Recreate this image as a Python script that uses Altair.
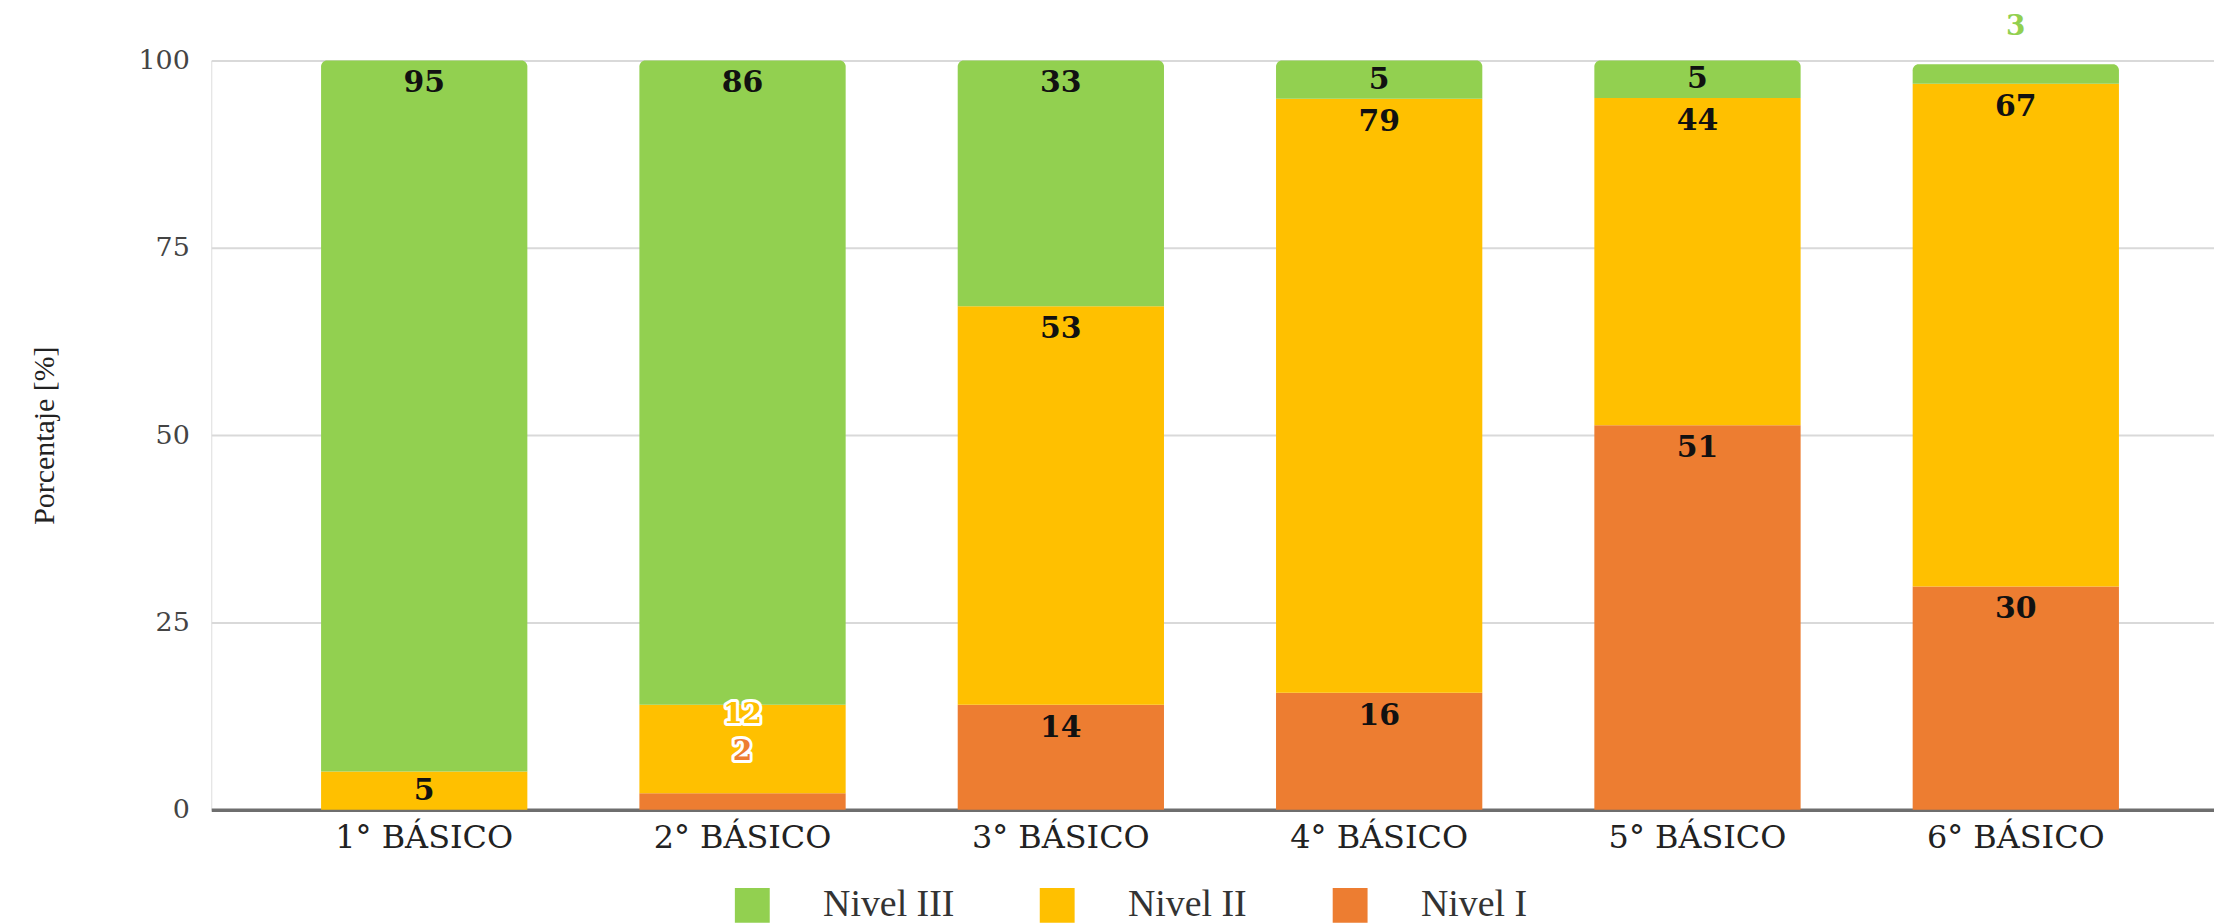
import altair as alt
import pandas as pd

# ---- data ----
grades = ["1° BÁSICO", "2° BÁSICO", "3° BÁSICO", "4° BÁSICO", "5° BÁSICO", "6° BÁSICO"]
levels_legend = ["Nivel III", "Nivel II", "Nivel I"]
level_colors = ["#92D050", "#FFC000", "#ED7D31"]
nivel_I = [0.0, 2.2, 14.0, 15.6, 51.3, 29.8]
nivel_II = [5.1, 11.8, 53.2, 79.3, 43.7, 67.1]
nivel_III = [94.9, 86.0, 32.8, 5.1, 5.0, 2.6]
y_ticks = [0, 25, 50, 75, 100]

stack_order = ["Nivel I", "Nivel II", "Nivel III"]  # bottom -> top
series = {"Nivel I": nivel_I, "Nivel II": nivel_II, "Nivel III": nivel_III}
color_of = dict(zip(levels_legend, level_colors))

PX_PER_UNIT = 752 / 100.0
rows = []
for i, g in enumerate(grades):
    base = 0.0
    vals = [series[l][i] for l in stack_order]
    for k, lvl in enumerate(stack_order):
        v = vals[k]
        start, end = base, base + v
        base = end
        is_top = k == len(stack_order) - 1
        small = 0 < v < 3
        below_small = k > 0 and 0 < vals[k - 1] < 3 and not small
        if small:
            kind = "outside_top" if is_top else "outside"
            label_y = end + (37 if is_top else 41) / PX_PER_UNIT
        elif below_small:
            kind = "halo"
            label_y = end - 10 / PX_PER_UNIT
        else:
            kind = "normal"
            label_y = end - min(23 / PX_PER_UNIT, v / 2)
        rows.append(dict(grade=g, level=lvl, value=v, start=start, end=end,
                         top=is_top, kind=kind, label_y=label_y,
                         label=f"{v:.0f}", label_color=color_of[lvl]))
df = pd.DataFrame(rows)

FONT_SERIF_WIDE = "DejaVu Serif"
FONT_SERIF = "Liberation Serif"

x_enc = alt.X("grade:N", sort=grades,
              scale=alt.Scale(paddingInner=0.352, paddingOuter=0.3218, align=0.536),
              axis=alt.Axis(title=None, labelAngle=0, ticks=False, tickSize=0,
                            labelFont=FONT_SERIF_WIDE, labelFontSize=32,
                            labelColor="#222222", labelBaseline="middle",
                            labelPadding=28, domain=True, domainColor="#6e6e6e",
                            domainWidth=3.5, grid=False))


def y_enc(field):
    return alt.Y(field, type="quantitative",
                 scale=alt.Scale(domain=[0, 100], nice=False, zero=True),
                 axis=alt.Axis(values=y_ticks, title="Porcentaje [%]", domain=False,
                               ticks=False, tickSize=0, grid=True, gridColor="#d9d9d9",
                               gridWidth=2, labelFont=FONT_SERIF_WIDE, labelFontSize=27,
                               labelColor="#444444", labelPadding=22,
                               labelBaseline="middle",
                               titleFont=FONT_SERIF, titleFontSize=30,
                               titleFontWeight="normal", titleColor="#222222",
                               titleAngle=270, titleX=-167,
                               titleAlign="center", titleBaseline="middle"))


color_enc = alt.Color("level:N",
                      scale=alt.Scale(domain=levels_legend, range=level_colors),
                      legend=alt.Legend(title=None, orient="none", direction="horizontal",
                                        legendX=524, legendY=829, padding=0,
                                        symbolType="square", symbolSize=1225,
                                        symbolStrokeWidth=0, symbolOpacity=1,
                                        labelFont=FONT_SERIF, labelFontSize=38,
                                        labelColor="#333333", labelOffset=52,
                                        columnPadding=84, labelLimit=400))

base = alt.Chart(df)

bars_lower = base.transform_filter("!datum.top").mark_bar().encode(
    x=x_enc, y=y_enc("start"), y2="end", color=color_enc)
bars_top = base.transform_filter("datum.top").mark_bar(
    cornerRadiusTopLeft=6, cornerRadiusTopRight=6).encode(
    x=x_enc, y=y_enc("start"), y2="end", color=color_enc)

labels_normal = base.transform_filter(
    "datum.kind == 'normal' && datum.value > 0").mark_text(
    font=FONT_SERIF_WIDE, fontSize=30, fontWeight="bold", color="#111111",
    baseline="middle", align="center").encode(
    x=x_enc, y=y_enc("label_y"), text="label:N")

labels_halo = base.transform_filter(
    "datum.kind == 'outside' || datum.kind == 'halo'").mark_text(
    font=FONT_SERIF_WIDE, fontSize=28, fontWeight="bold", stroke="white",
    strokeWidth=6, strokeJoin="round", fill="white",
    baseline="middle", align="center").encode(
    x=x_enc, y=y_enc("label_y"), text="label:N")

labels_colored = base.transform_filter(
    "datum.kind != 'normal'").mark_text(
    font=FONT_SERIF_WIDE, fontSize=28, fontWeight="bold",
    baseline="middle", align="center").encode(
    x=x_enc, y=y_enc("label_y"), text="label:N",
    color=alt.Color("label_color:N", scale=None))

chart = alt.layer(bars_lower, bars_top, labels_normal, labels_halo, labels_colored).properties(
    width=2010, height=752,
    padding={"left": 204, "top": 51, "right": 0, "bottom": 112},
    autosize=alt.AutoSizeParams(type="none"),
    title=alt.TitleParams("Distribución según nivel de logro", anchor="middle",
                          offset=55, baseline="alphabetic", dx=-91,
                          font=FONT_SERIF_WIDE, fontSize=40, fontWeight="bold",
                          color="#6b6b6b"),
).configure_view(stroke=None).configure(background="white")

chart.save("out.html", embed_options={"renderer": "svg", "actions": False})
